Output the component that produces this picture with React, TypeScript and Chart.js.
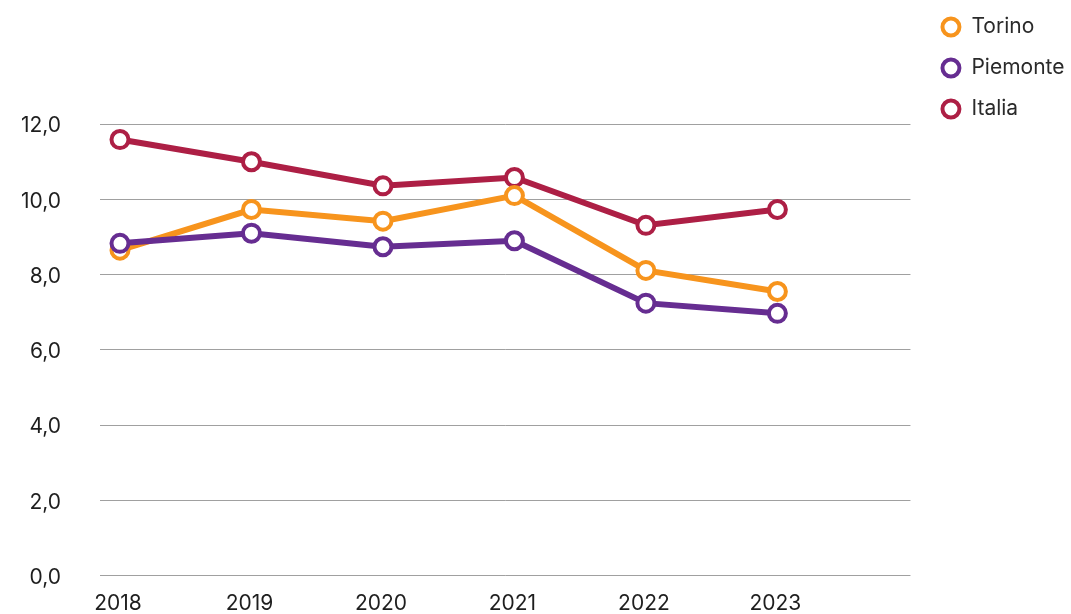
import React, { useEffect, useRef } from "react";
import { Chart, registerables } from "chart.js";

Chart.register(...registerables);

const YEARS = [2018, 2019, 2020, 2021, 2022, 2023];
const TORINO = [8.65, 9.73, 9.42, 10.1, 8.11, 7.55];
const PIEMONTE = [8.83, 9.1, 8.74, 8.9, 7.24, 6.97];
const ITALIA = [11.59, 11.0, 10.36, 10.58, 9.31, 9.73];
const Y_TICKS = [0, 2, 4, 6, 8, 10, 12];

const SERIES = [
  { label: "Torino", values: TORINO, color: "#F7941D", order: 1 },
  { label: "Piemonte", values: PIEMONTE, color: "#662D91", order: 0 },
  { label: "Italia", values: ITALIA, color: "#AD1F45", order: 2 },
];

const FONT = "Inter";

const legendShift = {
  id: "legendShift",
  afterLayout(chart: any) {
    const l = chart.legend;
    if (!l) return;
    const dx = 10.5;
    const dy = -3.5;
    l.left += dx;
    l.right += dx;
    l.top += dy;
    l.bottom += dy;
  },
};

export default function App() {
  const ref = useRef<HTMLCanvasElement>(null);
  useEffect(() => {
    if (!ref.current) return;
    const chart = new Chart(ref.current, {
      type: "line",
      data: {
        datasets: SERIES.map((s) => ({
          label: s.label,
          data: YEARS.map((yr, i) => ({ x: yr, y: s.values[i] })),
          borderColor: s.color,
          backgroundColor: "#ffffff",
          borderWidth: 6,
          pointRadius: 8.5,
          pointBorderWidth: 4,
          pointBackgroundColor: "#ffffff",
          pointBorderColor: s.color,
          pointStyle: "circle",
          order: s.order,
          tension: 0,
        })),
      },
      options: {
        animation: false,
        responsive: true,
        maintainAspectRatio: false,
        layout: { autoPadding: false, padding: { top: 0, right: 7, bottom: 0, left: 0 } },
        font: { family: FONT },
        plugins: {
          tooltip: { enabled: false },
          legend: {
            position: "right",
            align: "start",
            labels: {
              usePointStyle: true,
              pointStyle: "circle",
              boxHeight: 12,
              boxWidth: 20,
              padding: 20,
              color: "#2a2a2a",
              font: { family: FONT, size: 21 },
              sort: (a: any, b: any) => a.datasetIndex - b.datasetIndex,
            },
          },
        },
        scales: {
          x: {
            type: "linear",
            min: 2017.848,
            max: 2024.012,
            afterBuildTicks: (axis: any) => {
              axis.ticks = YEARS.map((v) => ({ value: v }));
            },
            afterFit: (scale: any) => {
              scale.height = 38.5;
            },
            grid: { display: false, drawTicks: false },
            border: { display: false },
            ticks: {
              padding: 15.5,
              labelOffset: -2,
              color: "#1e1e1e",
              font: { family: FONT, size: 21 },
              maxRotation: 0,
              autoSkip: false,
              callback: (v: any) => String(v),
            },
          },
          y: {
            min: 0,
            max: 15.3,
            afterBuildTicks: (axis: any) => {
              axis.ticks = Y_TICKS.map((v) => ({ value: v }));
            },
            afterFit: (scale: any) => {
              scale.width = 100;
              scale.paddingTop = 0;
              scale.paddingBottom = 0;
            },
            grid: { color: "#a0a0a0", lineWidth: 1, drawTicks: false },
            border: { display: false },
            ticks: {
              padding: 39,
              labelOffset: 2,
              color: "#1e1e1e",
              font: { family: FONT, size: 21 },
              callback: (v: any) => Number(v).toFixed(1).replace(".", ","),
            },
          },
        },
      },
      plugins: [legendShift],
    });
    return () => chart.destroy();
  }, []);
  return (
    <div style={{ position: "absolute", left: 0, top: 0, width: 1071, height: 614 }}>
      <canvas ref={ref} />
    </div>
  );
}
